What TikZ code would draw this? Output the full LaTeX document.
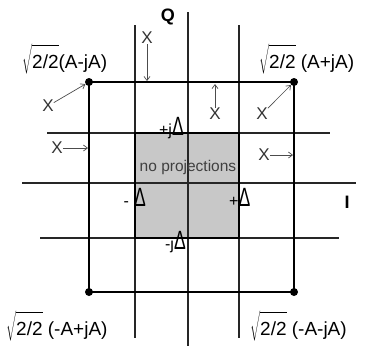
\documentclass[tikz,border=0pt]{standalone}
\usepackage{fontspec}
\usepackage{graphicx}
\setmainfont{Liberation Sans}
\usetikzlibrary{arrows.meta}
\definecolor{boxgray}{RGB}{200,200,200}
\newcommand{\dlt}{\scalebox{0.8}[1.2]{\fontsize{22}{22}\selectfont Δ}}
\newcommand{\rtwo}{$\sqrt{\hbox{\rule[-4pt]{0pt}{24pt}2/2}}$}
\begin{document}
\begin{tikzpicture}[x=1pt,y=-1pt,
  grid/.style={line width=1.1pt, draw=black!85},
  outer/.style={line width=2.2pt},
  xmark/.style={font=\fontsize{17}{17}\selectfont, inner sep=0pt, text=black!80},
  ptr/.style={draw=black!70, line width=0.7pt, -{Straight Barb[length=4pt,width=6pt]}},
  lbl/.style={font=\fontsize{19}{19}\selectfont, inner sep=0pt, anchor=base west},
  dlab/.style={font=\fontsize{16}{16}\selectfont, inner sep=0pt},
  axlab/.style={font=\bfseries\fontsize{18}{18}\selectfont, inner sep=0pt},
  dot/.style={circle, fill=black, inner sep=0pt, minimum size=8pt}]
\useasboundingbox (0,0) rectangle (365,346);
% shaded region
\fill[boxgray] (135,133) rectangle (239,238);
% grid lines
\draw[grid] (135,25) -- (135,338);
\draw[grid] (188,12) -- (188,346);
\draw[grid] (239,25) -- (239,338);
\draw[grid] (47,133) -- (330,133);
\draw[grid] (22,183) -- (356,183);
\draw[grid] (40,238) -- (339,238);
\draw[line width=1.5pt] (135,133) rectangle (239,238);
% outer square
\draw[outer] (89,82) rectangle (294,292);
\node[dot] (tl) at (89,82) {};
\node[dot] (tr) at (294,82) {};
\node[dot] (bl) at (89,292) {};
\node[dot] (br) at (294,292) {};
% axis labels
\node[axlab] (q) at (168,17) {Q};
\node[axlab] (i) at (347,202) {I};
% corner labels
\node[lbl] (ltl) at (22,68) {\rtwo(A-jA)};
\node[lbl] (ltr) at (259,68) {\rtwo\ (A+jA)};
\node[lbl] (lbl1) at (6,335) {\rtwo\ (-A+jA)};
\node[lbl] (lbr) at (250,335) {\rtwo\ (-A-jA)};
% inner labels
\node[dlab, anchor=base east] (dpj) at (184,135) {+j\dlt};
\node[dlab, anchor=base east] (dm) at (146,206) {-\hspace{5pt}\dlt};
\node[dlab, anchor=base west] (dp) at (229,206) {+\dlt};
\node[dlab, anchor=base east] (dmj) at (186,249) {-j\dlt};
\node[font=\fontsize{15.5}{15.5}\selectfont, text=black!75, inner sep=0pt, anchor=base] (np) at (188,171) {no projections};
% X markers and arrows
\node[xmark] (x1) at (147,38) {X};
\coordinate (t1) at (147,81);
\draw[ptr] (x1) -- (t1);
\node[xmark] (x2) at (215,114) {X};
\coordinate (t2) at (215,84);
\draw[ptr] (x2) -- (t2);
\node[xmark] (x3) at (48,106) {X};
\draw[ptr] (x3) -- (tl);
\node[xmark] (x4) at (262,114) {X};
\draw[ptr] (x4) -- (tr);
\node[xmark] (x5) at (57,148) {X};
\coordinate (t5) at (88,148);
\draw[ptr] (x5) -- (t5);
\node[xmark] (x6) at (264,155) {X};
\coordinate (t6) at (293,155);
\draw[ptr] (x6) -- (t6);
\end{tikzpicture}
\end{document}
